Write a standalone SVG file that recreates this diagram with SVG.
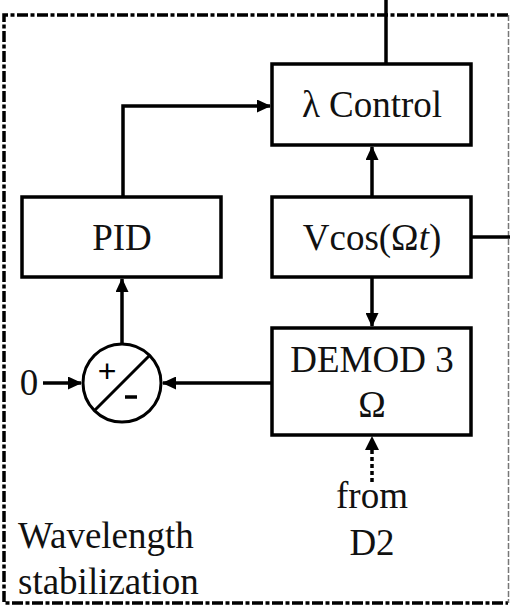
<svg xmlns="http://www.w3.org/2000/svg" width="510" height="614" viewBox="0 0 510 614">
<style>
.box{fill:#fff;stroke:#000;stroke-width:3.5}
.t{font-family:"Liberation Serif","Times New Roman",serif;font-size:37px;fill:#111}
.c{stroke:#000;stroke-width:3.5;fill:none}
.frame{fill:none;stroke:#000;stroke-width:3.5;stroke-dasharray:11 2.5 4 2.5}
</style>
<defs>
<marker id="ah" markerWidth="14" markerHeight="13" refX="13" refY="6.5" orient="auto" markerUnits="userSpaceOnUse">
<path d="M0,0 L14,6.5 L0,13 Z" fill="#000"/>
</marker>
</defs>
<rect width="510" height="614" fill="#fff"/>
<g id="frame">
<path class="frame" d="M508,15 H4 V603 H508"/>
<line x1="508.5" y1="15" x2="508.5" y2="603" stroke="#777" stroke-width="1.5" stroke-dasharray="6 2"/>
<text class="t" x="18" y="548">Wavelength</text>
<text class="t" x="18" y="594">stabilization</text>
</g>
<g id="connectors">
<line class="c" x1="386" y1="0" x2="386" y2="64"/>
<path class="c" d="M123,197 V106 H270" marker-end="url(#ah)"/>
<line class="c" x1="372" y1="197" x2="372" y2="147" marker-end="url(#ah)"/>
<line class="c" x1="471" y1="237" x2="510" y2="237"/>
<line class="c" x1="372" y1="277" x2="372" y2="326" marker-end="url(#ah)"/>
<line class="c" x1="122" y1="343" x2="122" y2="279" marker-end="url(#ah)"/>
<line class="c" x1="43" y1="383" x2="81" y2="383" marker-end="url(#ah)"/>
<line class="c" x1="272" y1="383" x2="163" y2="383" marker-end="url(#ah)"/>
<line class="c" x1="372" y1="482" x2="372" y2="448" stroke-dasharray="4 3"/>
<path d="M365,450 L372,436 L379,450 Z" fill="#000"/>
</g>
<g id="lambda-control">
<rect class="box" x="272" y="64" width="199" height="81"/>
<text class="t" x="372" y="117" text-anchor="middle">λ Control</text>
</g>
<g id="pid">
<rect class="box" x="22" y="197" width="199" height="80"/>
<text class="t" x="122" y="250" text-anchor="middle">PID</text>
</g>
<g id="vcos">
<rect class="box" x="272" y="197" width="199" height="80"/>
<text class="t" x="372" y="250" text-anchor="middle">Vcos(Ω<tspan font-style="italic">t</tspan>)</text>
</g>
<g id="demod">
<rect class="box" x="272" y="328" width="199" height="107"/>
<text class="t" x="372" y="372" text-anchor="middle">DEMOD 3</text>
<text class="t" x="372" y="417" text-anchor="middle">Ω</text>
</g>
<g id="summer">
<circle cx="122" cy="383" r="39" fill="#fff" stroke="#000" stroke-width="3"/>
<line x1="95" y1="410" x2="150" y2="355" stroke="#000" stroke-width="3"/>
<text x="107" y="382" text-anchor="middle" font-family="Liberation Sans, Arial, sans-serif" font-size="32" fill="#000">+</text>
<line x1="125" y1="397" x2="137" y2="397" stroke="#000" stroke-width="3.5"/>
</g>
<g id="zero">
<text class="t" x="29" y="395" text-anchor="middle">0</text>
</g>
<g id="from-d2">
<text class="t" x="372" y="508" text-anchor="middle">from</text>
<text class="t" x="372" y="555" text-anchor="middle">D2</text>
</g>
</svg>
